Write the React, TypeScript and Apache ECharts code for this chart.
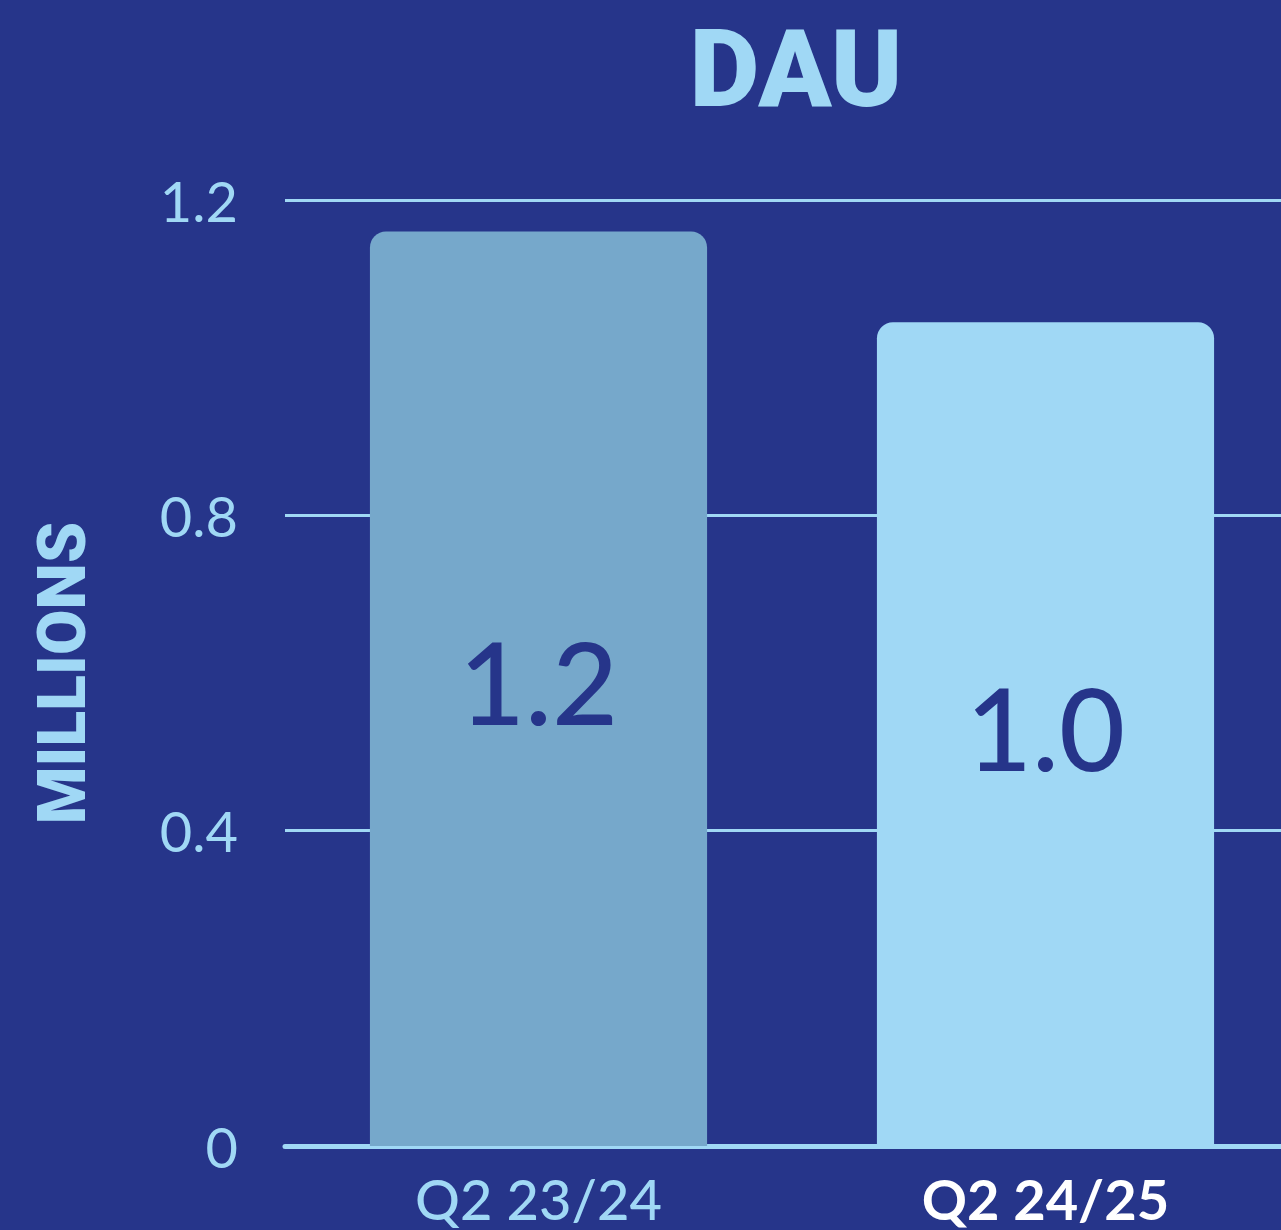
import React, { useEffect, useRef } from "react";
import * as echarts from "echarts";

const categories = ["Q2 23/24", "Q2 24/25"];
const dauValues = [1.16, 1.045];
const yTicks = [0, 0.4, 0.8, 1.2];
const titleText = "DAU";
const yAxisName = "MILLIONS";

const BG = "#26358A";
const LIGHT = "#A0D8F5";
const MID = "#76A8CB";

export default function App() {
  const ref = useRef<HTMLDivElement>(null);
  useEffect(() => {
    if (!ref.current) return;
    const chart = echarts.init(ref.current, null, { renderer: "svg" });
    const barColors = [MID, LIGHT];
    chart.setOption({
      animation: false,
      backgroundColor: BG,
      title: {
        text: titleText,
        left: 791,
        top: 10,
        textAlign: "center",
        textStyle: {
          color: LIGHT,
          fontFamily: "Roboto",
          fontWeight: 900,
          fontSize: 108,
        },
      },
      grid: {
        left: 285,
        width: 1014,
        top: 200,
        bottom: 84,
        containLabel: false,
        outerBoundsMode: "none",
      },
      xAxis: {
        type: "category",
        data: categories.map((c, i) =>
          i === 1
            ? {
                value: c,
                textStyle: {
                  color: "#FFFFFF",
                  fontWeight: 700,
                  textShadowColor: LIGHT,
                  textShadowOffsetX: -2,
                  textShadowOffsetY: 2,
                  textShadowBlur: 0,
                },
              }
            : c
        ),
        axisLine: { show: true, lineStyle: { color: LIGHT, width: 5 } },
        axisTick: { show: false },
        axisLabel: {
          color: LIGHT,
          fontFamily: "Lato",
          fontSize: 56,
          fontWeight: 500,
          margin: 24,
        },
      },
      yAxis: {
        type: "value",
        min: yTicks[0],
        max: yTicks[yTicks.length - 1],
        interval: 0.4,
        name: yAxisName,
        nameLocation: "middle",
        nameRotate: 90,
        nameGap: 190,
        nameTextStyle: {
          color: LIGHT,
          fontFamily: "Roboto",
          fontWeight: 900,
          fontSize: 66,
        },
        axisLine: { show: false },
        axisTick: { show: false },
        splitLine: { lineStyle: { color: LIGHT, width: 3 } },
        axisLabel: {
          color: LIGHT,
          fontFamily: "Lato",
          fontSize: 56,
          margin: 47,
          formatter: (v: number) => (v === 0 ? "0" : v.toFixed(1)),
        },
      },
      series: [
        {
          type: "bar",
          data: dauValues.map((v, i) => ({
            value: v,
            itemStyle: { color: barColors[i], borderRadius: [16, 16, 0, 0] },
          })),
          barWidth: "66.5%",
          z: 1,
          label: {
            show: true,
            position: "inside",
            offset: [0, -8],
            color: BG,
            fontFamily: "Lato",
            fontWeight: 500,
            fontSize: 114,
            formatter: (p: any) => Number(p.value).toFixed(1),
          },
        },
      ],
    });
    return () => chart.dispose();
  }, []);
  return (
    <div
      ref={ref}
      style={{ position: "absolute", left: 0, top: 0, width: 1281, height: 1230 }}
    />
  );
}
